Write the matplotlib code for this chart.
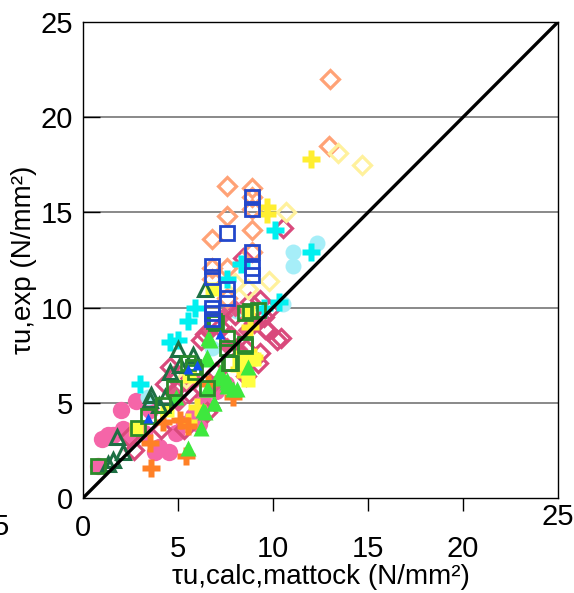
import numpy as np
import matplotlib
matplotlib.use("Agg")
import matplotlib.pyplot as plt

plt.rcParams['font.family'] = ['Liberation Sans Narrow', 'Liberation Sans', 'DejaVu Sans']

# (x = tau_u,calc,mattock , y = tau_u,exp) per series, N/mm2
pink_circ_x = [0.8, 1.0, 1.3, 1.6, 2.0, 2.1, 2.4, 2.8, 3.2, 3.8, 4.0, 4.5, 4.9, 5.3, 5.8, 6.2, 6.3, 6.1, 7.0, 7.5, 3.5]
pink_circ_y = [1.7, 3.1, 3.3, 3.3, 4.6, 3.6, 3.3, 5.1, 3.4, 2.4, 2.7, 2.4, 3.4, 3.9, 4.3, 4.6, 5.1, 3.9, 5.6, 6.0, 4.6]

cyan_circ_x = [12.3, 11.05, 11.05, 8.1, 3.4, 6.8, 10.5]
cyan_circ_y = [13.4, 12.9, 12.2, 9.8, 5.3, 7.9, 10.2]

crim_dia_x = [10.5, 8.4, 10.4, 9.7, 8.8, 9.5, 10.2, 9.6, 9.8, 9.3, 8.6, 7.8, 6.2, 6.4, 4.6, 4.3, 4.8,
              8.6, 9.3, 9.2, 8.3, 2.7, 2.4, 5.3, 4.1, 6.5, 7.2, 5.6, 7.0, 9.0, 8.0]
crim_dia_y = [14.2, 12.6, 8.4, 8.8, 10.3, 9.5, 8.3, 8.9, 9.9, 10.4, 7.8, 8.5, 8.3, 8.6, 6.9, 6.0, 6.4,
              6.4, 7.6, 7.1, 7.5, 2.5, 3.2, 3.6, 3.6, 4.5, 9.0, 5.5, 6.6, 9.2, 9.6]

pink_dia_x = [8.0, 8.6, 7.4, 6.6, 5.9, 5.4, 7.6, 4.7, 9.0, 6.9, 5.0, 8.2]
pink_dia_y = [10.0, 8.8, 9.6, 8.7, 6.2, 6.0, 8.0, 5.6, 9.3, 6.0, 5.0, 7.8]

orng_dia_x = [13.0, 12.95, 7.6, 8.9, 7.6, 6.8, 8.9, 8.9, 7.6, 6.8, 6.8, 7.6, 8.9, 8.9]
orng_dia_y = [22.0, 18.5, 16.4, 16.3, 14.8, 13.6, 14.1, 12.9, 12.1, 12.1, 11.5, 10.5, 15.8, 15.2]

ylw_dia_x = [13.4, 14.7, 10.7, 8.7, 8.0, 5.4, 9.8]
ylw_dia_y = [18.1, 17.5, 15.0, 11.0, 11.3, 6.3, 11.4]

cyan_plus_x = [12.0, 10.1, 10.3, 8.3, 5.9, 5.5, 5.0, 4.6, 3.0, 9.5, 7.6]
cyan_plus_y = [12.9, 14.1, 10.3, 12.3, 10.0, 9.3, 8.3, 8.2, 6.0, 10.0, 11.5]

ylw_plus_x = [12.0, 9.7, 9.7, 9.0, 8.2, 6.0, 5.5, 8.8]
ylw_plus_y = [17.8, 15.3, 14.9, 7.4, 6.8, 4.8, 4.0, 9.0]

orng_plus_x = [3.6, 5.4, 3.5, 4.2, 5.1, 7.9, 5.5, 6.6]
orng_plus_y = [1.6, 2.2, 2.9, 4.0, 4.1, 5.3, 3.8, 6.0]

grn_tri_x = [6.5, 7.2, 6.6, 6.9, 6.4, 6.2, 7.6, 7.9, 8.7, 5.5, 6.7, 6.6, 6.5, 7.2, 7.6, 8.1, 6.5, 6.9, 6.3, 4.9, 7.6]
grn_tri_y = [7.3, 6.6, 5.7, 5.0, 4.5, 3.7, 6.1, 5.7, 6.9, 2.6, 8.3, 8.4, 7.4, 6.3, 5.9, 5.7, 5.7, 5.0, 4.6, 5.3, 6.2]

dgrn_tri_x = [1.6, 1.3, 2.1, 1.8, 3.5, 3.6, 4.3, 4.6, 5.1, 5.0, 5.8, 6.4, 4.0]
dgrn_tri_y = [2.0, 1.8, 2.4, 3.2, 5.15, 5.4, 5.3, 6.6, 7.0, 7.8, 7.5, 11.0, 4.9]

grn_sq_x = [0.8, 2.9, 3.4, 4.2, 4.8, 5.8, 7.6, 6.9, 5.5, 5.9, 6.5, 7.8, 7.6, 8.5, 8.8, 9.2, 8.5, 8.5, 7.7, 7.0]
grn_sq_y = [1.7, 3.7, 4.3, 4.9, 5.8, 6.9, 8.4, 9.3, 7.1, 6.6, 5.8, 7.1, 7.9, 8.0, 9.8, 9.9, 9.7, 8.1, 7.1, 9.2]

ylw_sq_x = [2.8, 4.4, 5.6, 8.2, 9.0, 8.7, 8.3, 8.7, 6.8]
ylw_sq_y = [3.6, 4.6, 6.4, 7.1, 7.3, 9.8, 7.4, 6.2, 11.0]

blue_sq_x = [8.9, 8.9, 7.6, 8.9, 6.8, 6.8, 8.9, 8.9, 7.6, 7.6, 6.8, 6.8, 6.8]
blue_sq_y = [15.8, 15.2, 13.9, 12.9, 12.2, 11.6, 12.1, 11.7, 11.0, 10.5, 10.0, 9.4, 9.7]

blue_tri_x = [3.4, 6.0, 5.5, 7.2]
blue_tri_y = [4.2, 7.0, 6.8, 8.6]

fig = plt.figure(figsize=(5.74, 5.93), dpi=100)
ax = fig.add_axes([83/574, 95/593, 475/574, 476/593])

ax.set_xlim(0, 25)
ax.set_ylim(0, 25)
for g in [5, 10, 15, 20]:
    ax.axhline(g, color='#808080', lw=1.3, zorder=0)

ax.plot(pink_circ_x, pink_circ_y, 'o', ms=12.5, color='#f565a8', mec='none', ls='none')
ax.plot(cyan_circ_x, cyan_circ_y, 'o', ms=11.5, color='#a6eef8', mec='none', ls='none')
ax.plot(pink_dia_x, pink_dia_y, 'D', ms=9.5, color='#e05a88', mec='none', ls='none')
ax.plot(crim_dia_x, crim_dia_y, 'D', ms=8.8, mfc='none', mec='#d94a7c', mew=2.3, ls='none')
ax.plot(orng_dia_x, orng_dia_y, 'D', ms=8.8, mfc='none', mec='#ffa276', mew=2.3, ls='none')
ax.plot(ylw_dia_x, ylw_dia_y, 'D', ms=8.8, mfc='none', mec='#fff19c', mew=2.3, ls='none')
ax.plot(cyan_plus_x, cyan_plus_y, 'P', ms=12.5, color='#00f0f0', mec='none', ls='none')
ax.plot(ylw_plus_x, ylw_plus_y, 'P', ms=12.5, color='#ffee30', mec='none', ls='none')
ax.plot(orng_plus_x, orng_plus_y, 'P', ms=12.5, color='#ff8026', mec='none', ls='none')
ax.plot(ylw_sq_x, ylw_sq_y, 's', ms=10, color='#ffff40', mec='none', ls='none')
ax.plot(grn_tri_x, grn_tri_y, '^', ms=12, color='#3ee83e', mec='none', ls='none')
ax.plot(dgrn_tri_x, dgrn_tri_y, '^', ms=10, mfc='none', mec='#1d7044', mew=2.2, ls='none')
ax.plot(grn_sq_x, grn_sq_y, 's', ms=10, mfc='none', mec='#2b8a2b', mew=2.0, ls='none')
ax.plot(blue_sq_x, blue_sq_y, 's', ms=10.5, mfc='none', mec='#2347cc', mew=2.0, ls='none')
ax.plot(blue_tri_x, blue_tri_y, '^', ms=7, color='#1050f0', mec='none', ls='none')

ax.plot([0, 25], [0, 25], color='black', lw=2.4, zorder=5)

for s in ax.spines.values():
    s.set_linewidth(1.0)

ax.set_xticks([0, 5, 10, 15, 20, 25])
ax.set_yticks([0, 5, 10, 15, 20, 25])
ax.tick_params(axis='x', direction='out', length=9.5, width=1.0, labelsize=21)
ax.tick_params(axis='y', direction='in', length=12, width=1.0, labelsize=21, pad=7)
for i, t in enumerate(ax.xaxis.get_major_ticks()):
    if i in (0, 5):
        t.tick1line.set_visible(False)
        t.set_pad(-6 if i == 5 else 2)
    else:
        t.set_pad(17)
for i, t in enumerate(ax.yaxis.get_major_ticks()):
    if i in (0, 5):
        t.tick1line.set_visible(False)

ax.set_xlabel('τu,calc,mattock (N/mm²)', fontsize=20, labelpad=1)
ax.set_ylabel('τu,exp (N/mm²)', fontsize=20, labelpad=3)
fig.text(-0.012, 0.112, '5', fontsize=21, ha='left', va='center')

plt.savefig('out.png', dpi=100)
